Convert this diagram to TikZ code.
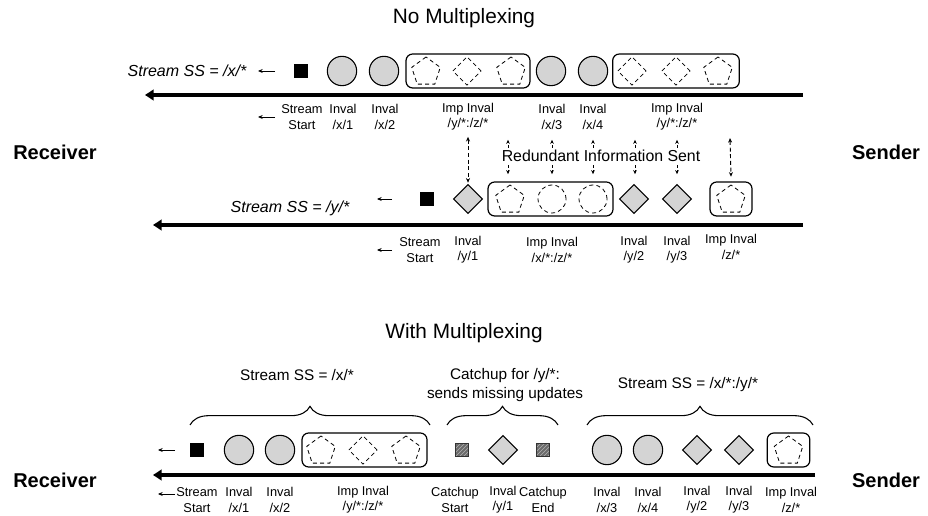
\documentclass[tikz,border=0pt]{standalone}
\usepackage{fontspec}
\setmainfont{Liberation Sans}
\usetikzlibrary{shapes.geometric,arrows.meta,decorations.pathreplacing,patterns,calc}
\definecolor{gfill}{RGB}{212,212,212}
\begin{document}
\begin{tikzpicture}[x=0.75pt,y=-0.75pt,
  lbl/.style={align=center, font=\fontsize{9.6}{11.4}\selectfont, inner sep=0pt},
  sslbl/.style={font=\itshape\fontsize{12}{14}\selectfont, inner sep=0pt},
  ttl/.style={font=\fontsize{15.6}{18}\selectfont, inner sep=0pt},
  side/.style={font=\bfseries\fontsize{15}{18}\selectfont, inner sep=0pt},
  brlbl/.style={align=center, font=\fontsize{11.5}{14.5}\selectfont, inner sep=0pt},
  gcirc/.style={circle, draw, line width=0.8pt, fill=gfill, minimum size=22pt, inner sep=0pt},
  gdiam/.style={diamond, draw, line width=0.8pt, fill=gfill, minimum size=22pt, inner sep=0pt},
  bsq/.style={rectangle, fill=black, minimum size=11pt, inner sep=0pt},
  csq/.style={rectangle, draw=black!80, line width=0.6pt, preaction={fill=black!58},
    pattern=north east lines, pattern color=black!30, minimum size=9.8pt, inner sep=0pt},
  dsh/.style={draw, line width=0.6pt, dash pattern=on 3pt off 2.4pt},
  dpent/.style={regular polygon, regular polygon sides=5, dsh, minimum size=22.5pt, inner sep=0pt},
  ddiam/.style={diamond, dsh, minimum size=21.5pt, inner sep=0pt},
  dcirc/.style={circle, dsh, minimum size=21pt, inner sep=0pt},
  grp/.style={draw, line width=0.9pt, rounded corners=5pt, minimum height=25.5pt, inner sep=0pt},
  trunk/.style={line width=2.6pt, -{Triangle[length=6.5pt,width=8pt]}},
  tick/.style={line width=0.6pt, -{Stealth[length=3.5pt,width=3pt]}},
  redarr/.style={line width=0.6pt, dash pattern=on 2pt off 1.5pt, -{Stealth[length=3pt,width=2.8pt]}},
  longarr/.style={line width=0.7pt, dash pattern=on 3pt off 2pt,
    {Stealth[length=3.5pt,width=3pt]}-{Stealth[length=3.5pt,width=3pt]}},
  br/.style={decorate, decoration={brace, amplitude=14pt}, line width=0.8pt}]
\useasboundingbox (0,0) rectangle (928,516);

% ---------- No Multiplexing ----------
\node[ttl] (ttlA) at (464,18) {No Multiplexing};
\node[side] (recvA) at (55,152) {Receiver};
\node[side] (sendA) at (886,152) {Sender};

% stream /x/*
\node[sslbl] (ssA) at (187,71) {Stream SS = /x/*};
\coordinate (tA1) at (275,71); \coordinate (tA2) at (258,71);
\draw[tick] (tA1) -- (tA2);
\node[bsq] (sA) at (301,71) {};
\node[gcirc] (cA1) at (342,71) {};
\node[gcirc] (cA2) at (384,71) {};
\node[grp, minimum width=93pt] (gA1) at (468,71) {};
\node[dpent] (pA1) at (426,72) {};
\node[ddiam] (qA1) at (467,71) {};
\node[dpent] (pA2) at (511,72) {};
\node[gcirc] (cA3) at (551,71) {};
\node[gcirc] (cA4) at (593,71) {};
\node[grp, minimum width=95pt] (gA2) at (676,71) {};
\node[ddiam] (qA2) at (632,71) {};
\node[ddiam] (qA3) at (676,71) {};
\node[dpent] (pA3) at (718,72) {};
\coordinate (A-r) at (803,95); \coordinate (A-l) at (145,95);
\draw[trunk] (A-r) -- (A-l);

\coordinate (tA3) at (275,117); \coordinate (tA4) at (258,117);
\draw[tick] (tA3) -- (tA4);
\node[lbl] (lA0) at (302,117) {Stream\\Start};
\node[lbl] (lA1) at (343,117) {Inval\\/x/1};
\node[lbl] (lA2) at (385,117) {Inval\\/x/2};
\node[lbl] (lA3) at (468,117) {Imp Inval\\/y/*:/z/*};
\node[lbl] (lA4) at (552,117) {Inval\\/x/3};
\node[lbl] (lA5) at (593,117) {Inval\\/x/4};
\node[lbl] (lA6) at (677,117) {Imp Inval\\/y/*:/z/*};

% redundant information markers
\node[font=\fontsize{11.9}{14}\selectfont, inner sep=0pt] (red) at (601,156) {Redundant Information Sent};
\foreach \x in {508,552,593,635,677} {
  \draw[redarr] ($(red.north -| \x,0)+(0,-2)$) -- ++(0,-8);
  \draw[redarr] ($(red.south -| \x,0)+(0,3)$) -- ++(0,9);
}

% stream /y/*
\node[sslbl] (ssB) at (290,208) {Stream SS = /y/*};
\coordinate (tB1) at (392,199); \coordinate (tB2) at (377,199);
\draw[tick] (tB1) -- (tB2);
\node[bsq] (sB) at (427,199) {};
\node[gdiam] (dB1) at (468,199) {};
\node[grp, minimum width=93.75pt] (gB1) at (550.5,199) {};
\node[dpent] (pB1) at (510,200) {};
\node[dcirc] (oB1) at (552,199) {};
\node[dcirc] (oB2) at (593,199) {};
\node[gdiam] (dB2) at (634,199) {};
\node[gdiam] (dB3) at (677,199) {};
\node[grp, minimum width=31.5pt] (gB2) at (731,199) {};
\node[dpent] (pB2) at (731,200) {};
\coordinate (B-r) at (803,225); \coordinate (B-l) at (153,225);
\draw[trunk] (B-r) -- (B-l);

\coordinate (tB3) at (392,250); \coordinate (tB4) at (377,250);
\draw[tick] (tB3) -- (tB4);
\node[lbl] (lB0) at (420,250) {Stream\\Start};
\node[lbl] (lB1) at (468,250) {Inval\\/y/1};
\node[lbl] (lB2) at (552,250) {Imp Inval\\/x/*:/z/*};
\node[lbl] (lB3) at (634,250) {Inval\\/y/2};
\node[lbl] (lB4) at (677,250) {Inval\\/y/3};
\node[lbl] (lB5) at (731,247) {Imp Inval\\/z/*};

% links between the two streams
\draw[longarr] ([yshift=-4.5pt]lA3.south) -- ([yshift=0.8pt]dB1.north);
\coordinate (rtop) at (730,138);
\draw[longarr] (rtop) -- ([yshift=3.5pt]gB2.north);

% ---------- With Multiplexing ----------
\node[ttl] (ttlC) at (464,333) {With Multiplexing};
\node[side] (recvC) at (55,480) {Receiver};
\node[side] (sendC) at (886,480) {Sender};

\node[brlbl] (bt1) at (297,375) {Stream SS = /x/*};
\node[brlbl] (bt2) at (505,385) {Catchup for /y/*:\\sends missing updates};
\node[brlbl] (bt3) at (688,385) {Stream SS = /x/*:/y/*};
\draw[br] (190,425) -- (430,425);
\draw[br] (447,425) -- (558,425);
\draw[br] (587,425) -- (813,425);

\coordinate (tC1) at (175,450); \coordinate (tC2) at (158,450);
\draw[tick] (tC1) -- (tC2);
\node[bsq] (sC) at (197,450) {};
\node[gcirc] (cC1) at (239,450) {};
\node[gcirc] (cC2) at (280,450) {};
\node[grp, minimum width=93.75pt] (gC1) at (364.5,450) {};
\node[dpent] (pC1) at (321,451) {};
\node[ddiam] (qC1) at (363,450) {};
\node[dpent] (pC2) at (406,451) {};
\node[csq] (kC1) at (462,450) {};
\node[gdiam] (dC1) at (503,450) {};
\node[csq] (kC2) at (543,450) {};
\node[gcirc] (cC3) at (607,450) {};
\node[gcirc] (cC4) at (648,450) {};
\node[gdiam] (dC2) at (697,450) {};
\node[gdiam] (dC3) at (739,450) {};
\node[grp, minimum width=32pt] (gC2) at (788.5,450) {};
\node[dpent] (pC3) at (788.5,451) {};
\coordinate (C-r) at (815,475); \coordinate (C-l) at (153,475);
\draw[trunk] (C-r) -- (C-l);

\coordinate (tC3) at (175,494); \coordinate (tC4) at (158,494);
\draw[tick] (tC3) -- (tC4);
\node[lbl] (lC0) at (197,500) {Stream\\Start};
\node[lbl] (lC1) at (239,500) {Inval\\/x/1};
\node[lbl] (lC2) at (280,500) {Inval\\/x/2};
\node[lbl] (lC3) at (363,500) {Imp Inval\\/y/*:/z/*};
\node[lbl] (lC4) at (455,500) {Catchup\\Start};
\node[lbl] (lC5) at (503,500) {Inval\\/y/1};
\node[lbl] (lC6) at (543,500) {Catchup\\End};
\node[lbl] (lC7) at (607,500) {Inval\\/x/3};
\node[lbl] (lC8) at (648,500) {Inval\\/x/4};
\node[lbl] (lC9) at (697,500) {Inval\\/y/2};
\node[lbl] (lC10) at (739,500) {Inval\\/y/3};
\node[lbl] (lC11) at (791,500) {Imp Inval\\/z/*};
\end{tikzpicture}
\end{document}
